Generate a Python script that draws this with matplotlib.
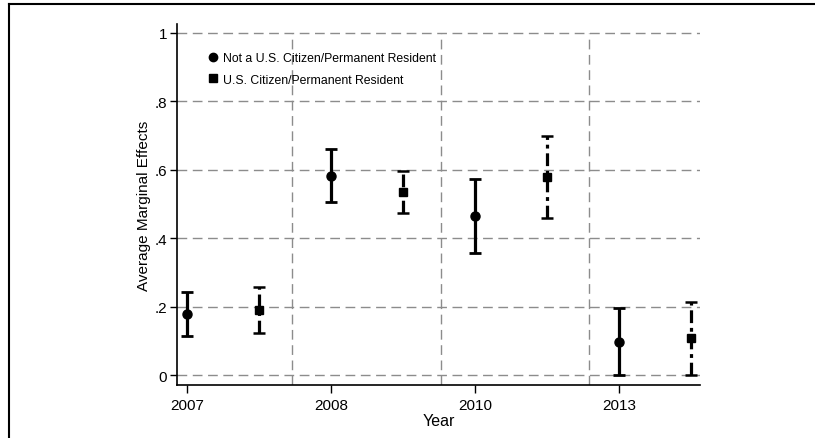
import matplotlib
matplotlib.use("Agg")
import matplotlib.pyplot as plt
from matplotlib.lines import Line2D

plt.rcParams['font.family'] = ['Liberation Sans', 'DejaVu Sans']

# data
years = ['2007', '2008', '2010', '2013']
noncit_est = [0.178, 0.583, 0.464, 0.098]
noncit_lo = [0.115, 0.507, 0.356, 0.0]
noncit_hi = [0.243, 0.661, 0.572, 0.196]
cit_est = [0.190, 0.534, 0.580, 0.107]
cit_lo = [0.123, 0.474, 0.460, 0.0]
cit_hi = [0.256, 0.596, 0.700, 0.215]
yticks = [0, 0.2, 0.4, 0.6, 0.8, 1]
ytick_labels = ['0', '.2', '.4', '.6', '.8', '1']

fig = plt.figure(figsize=(8.15, 4.39), dpi=100)
ax = fig.add_axes([0.2172, 0.1207, 0.6417, 0.8223])

xc = [2 * i for i in range(len(years))]
xs = [2 * i + 1 for i in range(len(years))]

ymin, ymax = -0.029, 1.026
ax.set_xlim(-0.14, 7.125)
ax.set_ylim(ymin, ymax)

# grid
for y in yticks:
    ax.axhline(y, color='#8c8c8c', lw=1, ls=(0, (7, 4)), zorder=1)
for x in [1.46, 3.53, 5.58]:
    ax.vlines(x, ymin, 1, color='#8c8c8c', lw=1, ls=(0, (7, 4)), zorder=1)

err_c = [[e - l for e, l in zip(noncit_est, noncit_lo)],
         [h - e for e, h in zip(noncit_est, noncit_hi)]]
err_s = [[e - l for e, l in zip(cit_est, cit_lo)],
         [h - e for e, h in zip(cit_est, cit_hi)]]

ax.errorbar(xc, noncit_est, yerr=err_c, fmt='o', color='black', ms=6.5,
            elinewidth=2.3, capsize=4.5, capthick=2, zorder=3)
eb = ax.errorbar(xs, cit_est, yerr=err_s, fmt='s', color='black', ms=6,
                 elinewidth=2.3, capsize=4.5, capthick=1.8, zorder=3)
eb[2][0].set_linestyle((0, (4, 1.5, 1.2, 1.5)))

ax.set_yticks(yticks)
ax.set_yticklabels(ytick_labels)
ax.set_xticks(xc)
ax.set_xticklabels(years)
ax.tick_params(axis='both', labelsize=11, length=5, width=1, color='black')
ax.tick_params(axis='x', pad=3, length=6)
ax.tick_params(axis='y', pad=2)
ax.set_xlabel('Year', fontsize=11.5, labelpad=1)
ax.set_ylabel('Average Marginal Effects', fontsize=11, labelpad=3)

for s in ['top', 'right']:
    ax.spines[s].set_visible(False)
for s in ['left', 'bottom']:
    ax.spines[s].set_linewidth(1.2)

handles = [Line2D([], [], marker='o', color='black', ls='none', ms=6),
           Line2D([], [], marker='s', color='black', ls='none', ms=6)]
ax.legend(handles, ['Not a U.S. Citizen/Permanent Resident',
                    'U.S. Citizen/Permanent Resident'],
          loc='upper left', bbox_to_anchor=(0.047, 0.935), frameon=False,
          fontsize=8.8, handletextpad=0.35, labelspacing=0.75,
          handlelength=1.0, borderaxespad=0)

# page frame lines at top and left
fig.add_artist(Line2D([9 / 815, 1], [1 - 5 / 439, 1 - 5 / 439],
                      transform=fig.transFigure, color='black', lw=1.5))
fig.add_artist(Line2D([9 / 815, 9 / 815], [0, 1 - 5 / 439],
                      transform=fig.transFigure, color='black', lw=1.5))

fig.savefig('out.png', dpi=100)
